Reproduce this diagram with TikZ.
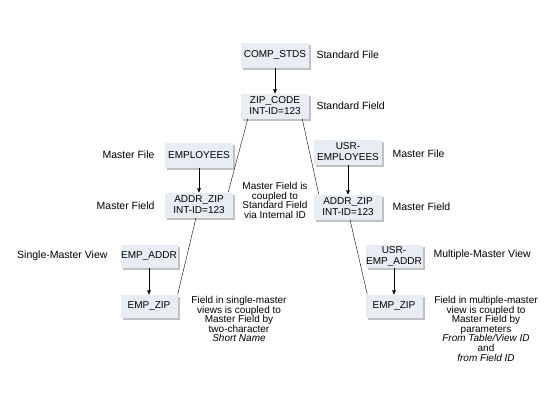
\documentclass[tikz,border=0pt]{standalone}
\usepackage{fontspec}
\setmainfont{Liberation Sans}
\usepackage{xcolor}
\usepackage{tikz}
\usetikzlibrary{arrows, shadows}
\definecolor{boxfill}{RGB}{231,237,243}

\begin{document}
\begin{tikzpicture}[x=1pt,
				y=-1pt,
				>=stealth',
				tbl/.style={fill=boxfill, inner sep=0pt, align=center,
					font=\fontsize{10}{11}\selectfont, minimum height=25pt,
					drop shadow={shadow xshift=2pt, shadow yshift=-2pt, fill=black!35, opacity=0.7}},
				wide/.style={tbl, minimum width=68pt},
				narrow/.style={tbl, minimum width=57pt, minimum height=23pt},
				lbl/.style={font=\fontsize{10.5}{12}\selectfont},
				note/.style={align=center, anchor=north, inner sep=0pt,
					font=\fontsize{10}{9.6}\selectfont}]
				\useasboundingbox (0,0) rectangle (550,400);
				% data dictionary objects
				\node[wide] at (275,55) (comp) {COMP\_STDS};
				\node[wide] at (275,106) (zip) {ZIP\_CODE\\INT-ID=123};
				\node[wide] at (199,155) (emp) {EMPLOYEES};
				\node[wide] at (199,205) (addrl) {ADDR\_ZIP\\INT-ID=123};
				\node[wide] at (348,152) (usremp) {USR-\\EMPLOYEES};
				\node[wide] at (348,207) (addrr) {ADDR\_ZIP\\INT-ID=123};
				\node[narrow] at (149,256) (empaddr) {EMP\_ADDR};
				\node[narrow] at (149,306) (empzipl) {EMP\_ZIP};
				\node[narrow] at (394,256) (usraddr) {USR-\\EMP\_ADDR};
				\node[narrow] at (394,306) (empzipr) {EMP\_ZIP};
				% labels
				\node[lbl, anchor=west] at (313,55) (lsf) {Standard File};
				\node[lbl, anchor=west] at (313,106) (lsfd) {Standard Field};
				\node[lbl, anchor=east] at (158,155) (lmf) {Master File};
				\node[lbl, anchor=east] at (158,206) (lmfd) {Master Field};
				\node[lbl, anchor=west] at (389,154) (rmf) {Master File};
				\node[lbl, anchor=west] at (389,207) (rmfd) {Master Field};
				\node[lbl, anchor=east] at (111,256) (lsv) {Single-Master View};
				\node[lbl, anchor=west] at (430,255) (rmv) {Multiple-Master View};
				% notes
				\node[note] at (275,182) (n1) {Master Field is\\coupled to\\Standard Field\\via Internal ID};
				\node[note] at (239,296) (n2) {Field in single-master\\views is coupled to\\Master Field by\\two-character\\\textit{Short Name}};
				\node[note] at (486,296) (n3) {Field in multiple-master\\view is coupled to\\Master Field by\\parameters\\\textit{From Table/View ID}\\and\\\textit{from Field ID}};
				% connectors
				\draw[->, black, semithick] (comp) -- (zip);
				\draw[->, black, semithick] (emp) -- (addrl);
				\draw[->, black, semithick] (usremp) -- (addrr);
				\draw[->, black, semithick] (empaddr) -- (empzipl);
				\draw[->, black, semithick] (usraddr) -- (empzipr);
				\draw[black, thin] ([xshift=7pt]zip.south west) -- ([xshift=-5pt]addrl.north east);
				\draw[black, thin] ([xshift=-7pt]zip.south east) -- ([xshift=5pt]addrr.north west);
				\draw[black, thin] ([xshift=-3pt]addrl.south) -- (empzipl.north east);
				\draw[black, thin] ([xshift=2pt]addrr.south) -- ([xshift=2pt]empzipr.north west);
			\end{tikzpicture}
\end{document}
